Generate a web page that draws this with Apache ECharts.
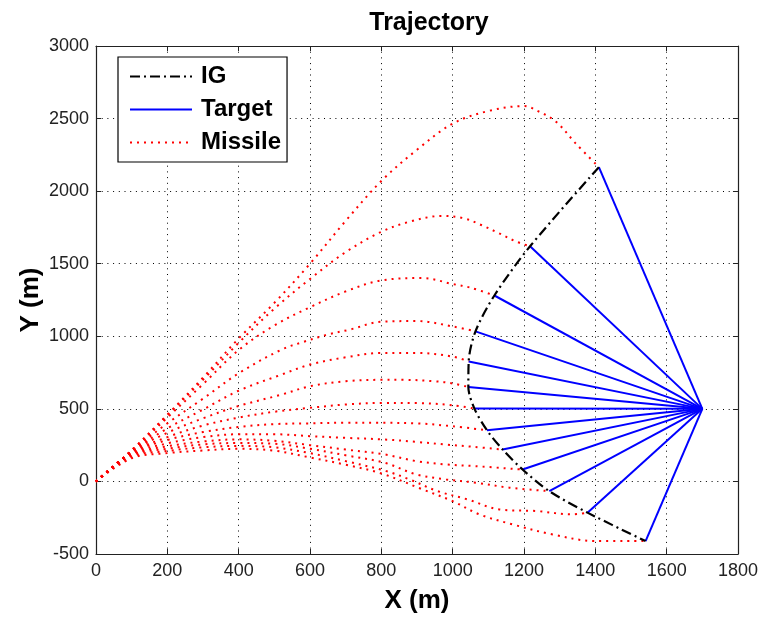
<!DOCTYPE html>
<html>
<head>
<meta charset="utf-8">
<script src="https://cdn.jsdelivr.net/npm/echarts@6/dist/echarts.min.js"></script>
<style>html,body{margin:0;padding:0;background:#fff}#c{width:761px;height:619px}</style>
</head>
<body>
<div id="c"></div>
<script>
// ---- data ----
const xTicks = [0, 200, 400, 600, 800, 1000, 1200, 1400, 1600, 1800];
const yTicks = [-500, 0, 500, 1000, 1500, 2000, 2500, 3000];
const targetPos = [1700, 500];

// intercept (end) points, top to bottom
const endX = [1410, 1217, 1117, 1064, 1045, 1044, 1061, 1096, 1140, 1196, 1271, 1378, 1541];
const endY = [2165, 1620, 1281, 1034, 827, 651, 502, 353, 220, 82, -67, -215, -411];

// missile trajectories [x, y]
const missile1 = [[0,0],[100,215],[200,460],[300,715],[400,985],[500,1230],[600,1500],[700,1795],[800,2070],[900,2285],[1000,2465],[1100,2552],[1200,2586],[1243,2547],[1290,2478],[1345,2329],[1410,2165]];
const missile2 = [[0,0],[100,215],[200,455],[300,700],[400,955],[500,1190],[600,1395],[700,1580],[800,1720],[880,1790],[970,1829],[1030,1814],[1080,1767],[1130,1710],[1178,1653],[1217,1620]];
const missile3 = [[0,0],[100,210],[200,440],[300,670],[400,905],[500,1075],[600,1200],[700,1309],[800,1385],[916,1401],[1000,1360],[1050,1335],[1117,1281]];
const missile4 = [[0,0],[100,210],[200,400],[300,570],[400,745],[520,908],[580,960],[650,1012],[710,1045],[800,1100],[900,1105],[1000,1068],[1064,1034]];
const missile5 = [[0,0],[100,205],[200,365],[300,495],[400,625],[520,736],[600,805],[700,855],[800,885],[900,885],[1000,860],[1045,827]];
const missile6 = [[0,0],[100,205],[200,335],[300,435],[400,520],[520,598],[600,656],[700,690],[800,700],[860,700],[950,690],[1000,675],[1044,651]];
const missile7 = [[0,0],[100,200],[200,305],[300,385],[400,440],[500,480],[600,507],[700,530],[800,541],[900,540],[1000,525],[1061,502]];
const missile8 = [[0,0],[100,195],[200,285],[300,340],[400,375],[500,395],[600,400],[700,405],[800,404],[900,400],[1000,380],[1096,353]];
const missile9 = [[0,0],[100,190],[200,262],[300,305],[400,325],[500,325],[600,312],[700,300],[809,289],[900,272],[982,254],[1060,238],[1140,220]];
const missile10 = [[0,0],[100,185],[200,242],[300,275],[400,290],[500,280],[600,250],[700,220],[809,186],[898,140],[982,117],[1066,105],[1196,82]];
const missile11 = [[0,0],[100,180],[200,225],[300,255],[400,265],[500,260],[600,225],[700,180],[809,129],[898,48],[982,14],[1066,-9],[1159,-43],[1271,-67]];
const missile12 = [[0,0],[100,170],[200,210],[300,235],[400,245],[500,235],[600,195],[700,140],[814,71],[879,14],[958,-67],[1042,-124],[1131,-193],[1234,-204],[1336,-227],[1378,-215]];
const missile13 = [[0,0],[100,160],[200,195],[300,213],[400,225],[500,212],[600,165],[700,115],[800,55],[916,-55],[1000,-136],[1075,-227],[1168,-296],[1280,-365],[1401,-411],[1541,-411]];
const missiles = [missile1, missile2, missile3, missile4, missile5, missile6, missile7, missile8, missile9, missile10, missile11, missile12, missile13];

const FONT = 'Liberation Sans, Arial, Helvetica, sans-serif';

const series = [];
missiles.forEach(function (m) {
  series.push({
    name: 'Missile', type: 'line', data: m, symbol: 'none', smooth: 0.35,
    itemStyle: { color: '#ff0000' },
    lineStyle: { color: '#ff0000', width: 2, type: [2, 5] }, z: 2
  });
});
endX.forEach(function (x, i) {
  series.push({
    name: 'Target', type: 'line', data: [targetPos, [x, endY[i]]], symbol: 'none',
    itemStyle: { color: '#0000ff' },
    lineStyle: { color: '#0000ff', width: 2, type: 'solid' }, z: 3
  });
});
series.push({
  name: 'IG', type: 'line', data: endX.map(function (x, i) { return [x, endY[i]]; }),
  symbol: 'none', smooth: 0.3,
  itemStyle: { color: '#000000' },
  lineStyle: { color: '#000000', width: 2.2, type: [10, 4, 2, 4] }, z: 4
});

function plain(v) { return String(v); }

const chart = echarts.init(document.getElementById('c'), null, { renderer: 'canvas' });
chart.setOption({
  animation: false,
  backgroundColor: '#ffffff',
  title: {
    text: 'Trajectory', left: 424, top: 6, textAlign: 'center',
    textStyle: { fontFamily: FONT, fontWeight: 'bold', fontSize: 25, color: '#000' }
  },
  legend: {
    data: ['IG', 'Target', 'Missile'],
    orient: 'vertical', left: 118, top: 57,
    itemWidth: 62, itemHeight: 18, itemGap: 8,
    padding: [7, 6, 7, 11],
    itemStyle: { opacity: 0 },
    backgroundColor: '#fff', borderColor: '#000', borderWidth: 1.2, borderRadius: 0,
    textStyle: { fontFamily: FONT, fontWeight: 'bold', fontSize: 24, color: '#000', lineHeight: 25, padding: [0, 0, 0, 4] },
    selectedMode: false, z: 10
  },
  grid: { left: 96, right: 22, top: 46, bottom: 64, containLabel: false },
  xAxis: [{
    type: 'value', min: xTicks[0], max: xTicks[xTicks.length - 1], interval: 200,
    name: 'X (m)', nameLocation: 'middle', nameGap: 34, nameMoveOverlap: false,
    nameTextStyle: { fontFamily: FONT, fontWeight: 'bold', fontSize: 26, color: '#000' },
    axisLine: { show: true, onZero: false, lineStyle: { color: '#222', width: 1.2 } },
    axisTick: { show: true, inside: true, length: 5, lineStyle: { color: '#222' } },
    axisLabel: { fontFamily: FONT, fontSize: 18, color: '#222', margin: 8, formatter: plain },
    splitLine: { show: true, lineStyle: { color: '#000', width: 1, type: [1, 4.7] } }
  }, {
    type: 'value', position: 'top', min: xTicks[0], max: xTicks[xTicks.length - 1], interval: 200,
    axisLine: { show: true, onZero: false, lineStyle: { color: '#222', width: 1.2 } },
    axisTick: { show: true, inside: true, length: 5, lineStyle: { color: '#222' } },
    axisLabel: { show: false }, splitLine: { show: false }
  }],
  yAxis: [{
    type: 'value', min: yTicks[0], max: yTicks[yTicks.length - 1], interval: 500,
    name: 'Y (m)', nameLocation: 'middle', nameGap: 52, nameRotate: 90, nameMoveOverlap: false,
    nameTextStyle: { fontFamily: FONT, fontWeight: 'bold', fontSize: 26, color: '#000' },
    axisLine: { show: true, onZero: false, lineStyle: { color: '#222', width: 1.2 } },
    axisTick: { show: true, inside: true, length: 5, lineStyle: { color: '#222' } },
    axisLabel: { fontFamily: FONT, fontSize: 18, color: '#222', margin: 7, formatter: plain },
    splitLine: { show: true, lineStyle: { color: '#000', width: 1, type: [1, 4.7] } }
  }, {
    type: 'value', position: 'right', min: yTicks[0], max: yTicks[yTicks.length - 1], interval: 500,
    axisLine: { show: true, onZero: false, lineStyle: { color: '#222', width: 1.2 } },
    axisTick: { show: true, inside: true, length: 5, lineStyle: { color: '#222' } },
    axisLabel: { show: false }, splitLine: { show: false }
  }],
  series: series
});
</script>
</body>
</html>
